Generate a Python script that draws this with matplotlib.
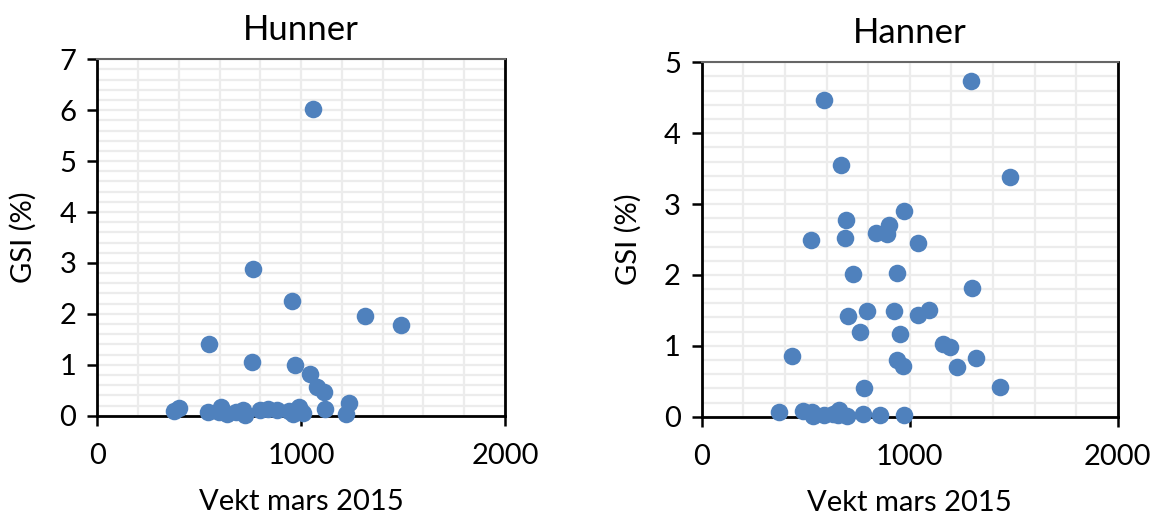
import numpy as np
import matplotlib.pyplot as plt
from matplotlib.ticker import MultipleLocator

# Hunner (females): weight March 2015 vs GSI (%)
hun_vekt = [1058, 765, 957, 1311, 1488, 550, 760, 972, 1042, 1078, 1113, 1237, 1115, 1219,
            375, 401, 543, 608, 597, 636, 682, 714, 727, 796, 836, 882, 942, 962, 991, 1007]
hun_gsi = [6.03, 2.88, 2.26, 1.95, 1.79, 1.40, 1.05, 1.00, 0.81, 0.56, 0.47, 0.25, 0.13, 0.03,
           0.10, 0.16, 0.07, 0.18, 0.07, 0.03, 0.08, 0.12, 0.01, 0.11, 0.14, 0.12, 0.10, 0.03, 0.18, 0.05]

# Hanner (males)
han_vekt = [1296, 587, 668, 1484, 971, 695, 901, 838, 889, 527, 687, 1038, 727, 937, 1300,
            795, 923, 702, 1040, 1093, 760, 955, 1162, 1192, 433, 937, 969, 1317, 1227, 780, 1433,
            372, 489, 529, 537, 588, 633, 662, 653, 697, 774, 857, 973]
han_gsi = [4.74, 4.47, 3.55, 3.38, 2.90, 2.77, 2.71, 2.59, 2.58, 2.49, 2.52, 2.45, 2.01, 2.03, 1.82,
           1.49, 1.49, 1.42, 1.44, 1.51, 1.19, 1.17, 1.03, 0.99, 0.85, 0.80, 0.71, 0.83, 0.70, 0.40, 0.42,
           0.07, 0.08, 0.07, 0.01, 0.02, 0.04, 0.09, 0.02, 0.01, 0.04, 0.02, 0.02]

plt.rcParams['font.family'] = ['Lato', 'DejaVu Sans']

fig = plt.figure(figsize=(11.58, 5.2), dpi=100)
ax1 = fig.add_axes([0.0840, 0.2006, 0.3521, 0.6854])
ax2 = fig.add_axes([0.6060, 0.1987, 0.3592, 0.6815])

def style(ax, x, y, title, ymax):
    ax.scatter(x, y, s=160, color='#4f81bd', zorder=3, clip_on=False, linewidths=0)
    ax.set_xlim(0, 2000)
    ax.set_ylim(0, ymax)
    ax.xaxis.set_major_locator(MultipleLocator(1000))
    ax.xaxis.set_minor_locator(MultipleLocator(200))
    ax.yaxis.set_major_locator(MultipleLocator(1))
    ax.yaxis.set_minor_locator(MultipleLocator(0.2))
    ax.grid(True, which='both', color='#ececec', linewidth=1.6, zorder=0)
    ax.set_axisbelow(True)
    ax.tick_params(which='major', direction='out', length=7, width=1.8, labelsize=21, pad=8)
    ax.tick_params(axis='x', which='major', pad=13)
    ax.tick_params(which='minor', length=0)
    for side in ['left', 'bottom', 'right']:
        ax.spines[side].set_color('black')
        ax.spines[side].set_linewidth(2)
    ax.spines['top'].set_color('#666666')
    ax.spines['top'].set_linewidth(1.5)
    ax.set_title(title, fontsize=25, pad=14)
    ax.set_xlabel('Vekt mars 2015', fontsize=21, labelpad=14)
    ax.set_ylabel('GSI (%)', fontsize=21, labelpad=16)

style(ax1, hun_vekt, hun_gsi, 'Hunner', 7)
style(ax2, han_vekt, han_gsi, 'Hanner', 5)

fig.savefig('out.png', dpi=100)
